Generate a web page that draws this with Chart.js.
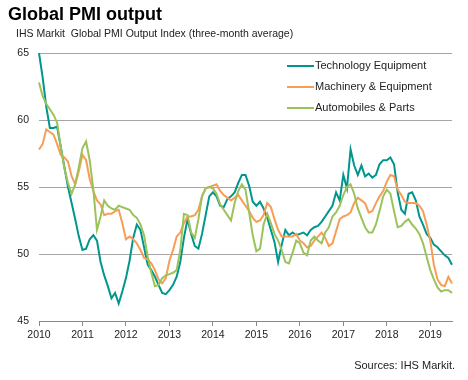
<!DOCTYPE html>
<html>
<head>
<meta charset="utf-8">
<script src="https://cdn.jsdelivr.net/npm/chart.js@4.4.0/dist/chart.umd.min.js"></script>
<style>
  html, body { margin: 0; padding: 0; background: #fff; }
  #wrap { width: 468px; height: 380px; }
</style>
</head>
<body>
<div id="wrap"><canvas id="pmiChart" width="468" height="380"></canvas></div>
<script>
var years = ['2010', '2011', '2012', '2013', '2014', '2015', '2016', '2017', '2018', '2019'];
var yTicks = [45, 50, 55, 60, 65];

// monthly labels, Jan 2010 - Jul 2019
var months = [];
years.forEach(function(y) {
  for (var m = 1; m <= 12; m++) months.push(y + '-' + (m < 10 ? '0' : '') + m);
});
months = months.slice(0, 115);

var seriesNames = ['Technology Equipment', 'Machinery & Equipment', 'Automobiles & Parts'];
var seriesColors = ['#00968e', '#f79d56', '#9cc25a'];

var techEquipment = [
  65, 63.2, 61, 59.4, 59.4, 59.5, 58, 56.5, 55, 53.8, 52.6, 51.3,
  50.3, 50.4, 51.1, 51.4, 51.0, 49.4, 48.4, 47.6, 46.7, 47.1, 46.3, 47.2,
  48.2, 49.5, 51.2, 52.2, 51.8, 50.5, 49.2, 48.8, 48.3, 47.7, 47.1, 47.0,
  47.3, 47.7, 48.3, 49.4, 51.2, 52.6, 51.5, 50.6, 50.4, 51.5, 52.9, 54.3,
  54.6, 54.3, 53.6, 53.5, 54.1, 54.3, 54.6, 55.3, 55.9, 55.9, 55.1, 53.9,
  53.6, 53.9, 53.4, 52.7, 51.8, 50.9, 49.4, 50.7, 51.8, 51.4, 51.6, 51.4,
  51.5, 51.6, 51.4, 51.8, 52.0, 52.1, 52.4, 52.8, 53.2, 53.6, 54.6, 54.0,
  55.9, 54.9, 57.8, 56.6, 55.9, 56.6, 55.8, 56.0, 55.7, 55.9, 56.7, 57.0,
  57.0, 57.2, 56.7, 54.6, 53.3, 53.0, 54.5, 54.6, 54.0, 52.8, 52.2, 51.5,
  51.2, 50.7, 50.5, 50.2, 49.9, 49.7, 49.2
];

var machineryEquipment = [
  57.8, 58.2, 59.3, 59.1, 58.9, 58.2, 57.4, 57.2, 56.9, 55.8, 55.2, 56.2,
  57.4, 57.0, 55.6, 54.7, 54.0, 53.7, 52.9, 53.0, 53.0, 53.2, 53.3, 52.3,
  51.1, 51.3, 51.1, 50.8, 50.3, 49.7, 49.6, 49.3, 48.8, 48.1, 47.8, 48.2,
  49.5, 50.3, 51.3, 51.6, 52.3, 52.8, 52.8, 52.9, 53.3, 54.3, 54.9, 55.0,
  55.1, 55.2, 54.7, 54.4, 54.2, 54.0, 54.2, 54.4, 54.0, 53.6, 53.2, 52.7,
  52.4, 52.5, 52.9, 53.8, 53.5, 52.6, 51.8, 51.3, 51.3, 51.3, 51.3, 51.5,
  51.0, 50.8, 50.5, 50.6, 51.0, 51.3, 51.6, 51.2, 50.6, 50.8, 51.7, 52.6,
  52.8, 52.9, 53.1, 53.8, 54.2, 54.0, 53.8, 53.1, 53.2, 53.8, 54.3, 54.7,
  55.4, 55.9, 55.8, 54.8, 54.4, 53.9, 53.8, 53.8, 53.8, 53.6, 53.2, 52.2,
  51.0, 49.2, 48.1, 47.7, 47.6, 48.3, 47.8
];

var autosParts = [
  62.8, 61.8, 61.2, 60.8, 60.4, 59.8, 58.0, 56.4, 55.3, 54.5, 55.2, 56.5,
  57.9, 58.4, 57.0, 54.8, 51.8, 52.8, 54.0, 53.6, 53.4, 53.3, 53.6, 53.5,
  53.4, 53.3, 52.9, 52.7, 52.2, 51.4, 49.8, 48.6, 47.6, 47.7, 48.2, 48.4,
  48.5, 48.6, 48.8, 50.3, 53.0, 52.9, 51.6, 51.2, 52.6, 54.3, 54.9, 55.0,
  54.9, 54.5, 53.7, 53.3, 52.9, 52.5, 53.8, 54.7, 55.2, 54.8, 53.1, 51.4,
  50.2, 50.4, 52.2, 53.0, 52.3, 51.5, 51.0, 50.3, 49.4, 49.3, 50.1, 51.0,
  50.8, 50.1, 49.9, 51.0, 51.3, 51.0, 50.8, 51.6, 52.0, 52.8, 53.1, 53.6,
  54.4, 55.0, 55.2, 54.5, 53.4, 52.7, 52.0, 51.6, 51.6, 52.2, 53.2, 54.3,
  54.8, 54.5, 53.2, 52.0, 52.1, 52.4, 52.6, 52.2, 51.9, 51.5, 50.8, 49.8,
  48.8, 48.1, 47.5, 47.2, 47.3, 47.3, 47.1
];

var FONT = '"Liberation Sans", Arial, sans-serif';

// title, subtitle, source line and the in-plot legend
var textsPlugin = {
  id: 'texts',
  afterDraw: function(chart) {
    var ctx = chart.ctx;
    ctx.save();
    ctx.fillStyle = '#000';
    ctx.textBaseline = 'alphabetic';
    ctx.textAlign = 'left';
    ctx.font = 'bold 18px ' + FONT;
    ctx.fillText('Global PMI output', 8, 20);
    ctx.fillStyle = '#222';
    ctx.font = '10.5px ' + FONT;
    ctx.fillText('IHS Markit  Global PMI Output Index (three-month average)', 16, 37);
    ctx.textAlign = 'right';
    ctx.font = '11px ' + FONT;
    ctx.fillText('Sources: IHS Markit.', 455, 369);

    ctx.textAlign = 'left';
    ctx.textBaseline = 'middle';
    seriesNames.forEach(function(name, i) {
      var y = 66 + i * 21;
      ctx.strokeStyle = seriesColors[i];
      ctx.lineWidth = 2;
      ctx.beginPath();
      ctx.moveTo(287, y);
      ctx.lineTo(314, y);
      ctx.stroke();
      ctx.fillStyle = '#222';
      ctx.fillText(name, 315, y);
    });
    ctx.restore();
  }
};

var datasets = [techEquipment, machineryEquipment, autosParts].map(function(vals, i) {
  return {
    label: seriesNames[i],
    data: vals,
    borderColor: seriesColors[i],
    backgroundColor: seriesColors[i],
    borderWidth: 2,
    pointRadius: 0,
    tension: 0,
    fill: false
  };
});
// draw automobiles first, technology on top
datasets.reverse();

new Chart(document.getElementById('pmiChart'), {
  type: 'line',
  data: { labels: months, datasets: datasets },
  options: {
    responsive: false,
    animation: false,
    devicePixelRatio: 1,
    layout: { padding: { top: 53, right: 16, left: 0, bottom: 0 } },
    plugins: {
      legend: { display: false },
      tooltip: { enabled: false },
      texts: {}
    },
    scales: {
      x: {
        grid: {
          drawOnChartArea: false,
          drawTicks: true,
          tickLength: 5,
          color: function(c) {
            var lab = months[c.index];
            return lab && lab.slice(5) === '01' ? '#888' : 'rgba(0,0,0,0)';
          }
        },
        border: { display: true, color: '#888', width: 1 },
        ticks: {
          autoSkip: false,
          maxRotation: 0,
          padding: 3,
          color: '#222',
          font: { family: FONT, size: 10.5 },
          callback: function(value, index) {
            var lab = months[index];
            return lab.slice(5) === '01' ? lab.slice(0, 4) : '';
          }
        },
        afterFit: function(s) { s.height = 59; }
      },
      y: {
        min: yTicks[0],
        max: yTicks[yTicks.length - 1],
        afterBuildTicks: function(s) {
          s.ticks = yTicks.map(function(v) { return { value: v }; });
        },
        ticks: {
          padding: 10,
          color: '#222',
          font: { family: FONT, size: 10.5 }
        },
        grid: {
          drawTicks: false,
          color: function(c) {
            return c.tick && c.tick.value === yTicks[0] ? 'rgba(0,0,0,0)' : '#a6a6a6';
          }
        },
        border: { display: false },
        afterFit: function(s) { s.width = 39; }
      }
    }
  },
  plugins: [textsPlugin]
});
</script>
</body>
</html>
